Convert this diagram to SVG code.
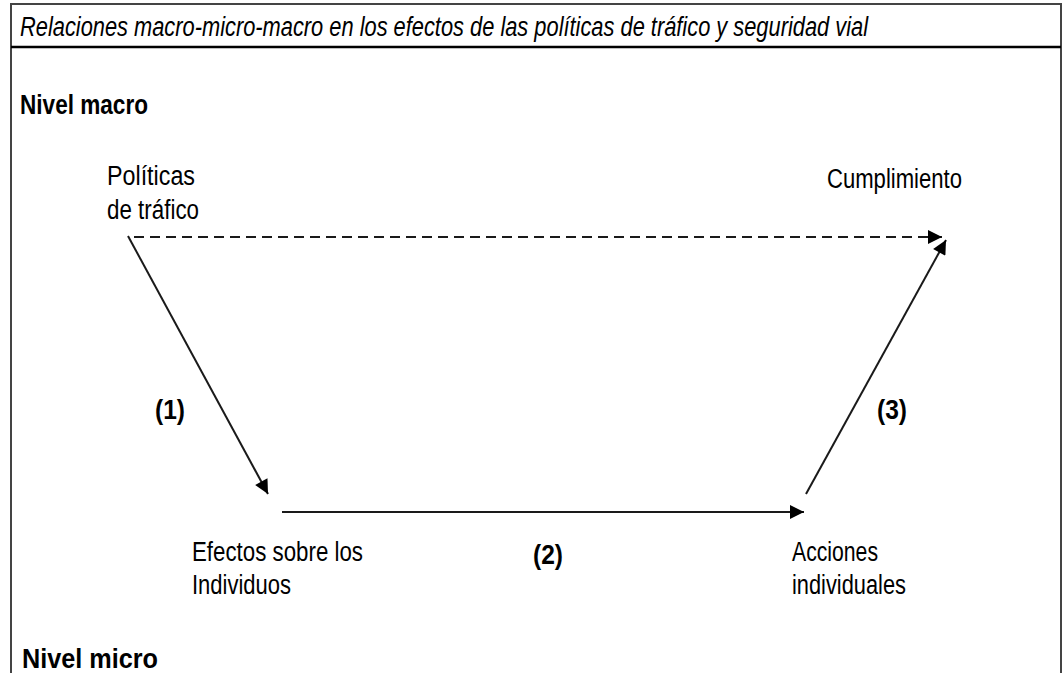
<svg xmlns="http://www.w3.org/2000/svg" width="1063" height="673" viewBox="0 0 1063 673">
<style>
.t{font-family:"Liberation Sans Narrow","Liberation Sans",Arial,sans-serif;font-size:27px;fill:#000}
.b{font-weight:bold}
.ln{stroke:#1a1a1a;stroke-width:2;fill:none}
</style>
<defs>
<marker id="ah" viewBox="0 0 10 10" refX="10" refY="5" markerWidth="8" markerHeight="7" markerUnits="strokeWidth" orient="auto">
<path d="M0,0 L10,5 L0,10 z" fill="#000"/>
</marker>
</defs>
<rect width="1063" height="673" fill="#fff"/>
<g id="frame">
<path d="M11,680 V4 H1061 V680" fill="none" stroke="#444" stroke-width="2"/>
<line x1="11" y1="47" x2="1061" y2="47" stroke="#000" stroke-width="2.5"/>
<text class="t" x="20" y="36" font-size="25" font-style="italic" textLength="848" lengthAdjust="spacingAndGlyphs">Relaciones macro-micro-macro en los efectos de las políticas de tráfico y seguridad vial</text>
</g>
<g id="nivel-macro"><text class="t b" x="20" y="114" font-size="25" textLength="128" lengthAdjust="spacingAndGlyphs">Nivel macro</text></g>
<g id="politicas">
<text class="t" x="107" y="185" textLength="88" lengthAdjust="spacingAndGlyphs">Políticas</text>
<text class="t" x="107" y="219" textLength="92" lengthAdjust="spacingAndGlyphs">de tráfico</text>
</g>
<g id="cumplimiento"><text class="t" x="827" y="188" textLength="135" lengthAdjust="spacingAndGlyphs">Cumplimiento</text></g>
<g id="efectos">
<text class="t" x="192" y="561" textLength="171" lengthAdjust="spacingAndGlyphs">Efectos sobre los</text>
<text class="t" x="192" y="594" textLength="99" lengthAdjust="spacingAndGlyphs">Individuos</text>
</g>
<g id="acciones">
<text class="t" x="792" y="561" textLength="86" lengthAdjust="spacingAndGlyphs">Acciones</text>
<text class="t" x="792" y="594" textLength="114" lengthAdjust="spacingAndGlyphs">individuales</text>
</g>
<g id="nivel-micro"><text class="t b" x="22" y="668" font-size="25" textLength="136" lengthAdjust="spacingAndGlyphs">Nivel micro</text></g>
<g id="connectors">
<line class="ln" x1="134" y1="237" x2="942" y2="237" stroke-dasharray="10,6" stroke-width="2.5" marker-end="url(#ah)"/>
<line class="ln" x1="128" y1="236" x2="268" y2="494" marker-end="url(#ah)"/>
<line class="ln" x1="282" y1="512" x2="804" y2="512" marker-end="url(#ah)"/>
<line class="ln" x1="806" y1="494" x2="946" y2="240" marker-end="url(#ah)"/>
<text class="t b" x="155" y="419" textLength="30" lengthAdjust="spacingAndGlyphs">(1)</text>
<text class="t b" x="533" y="564" textLength="30" lengthAdjust="spacingAndGlyphs">(2)</text>
<text class="t b" x="877" y="419" textLength="30" lengthAdjust="spacingAndGlyphs">(3)</text>
</g>
</svg>
